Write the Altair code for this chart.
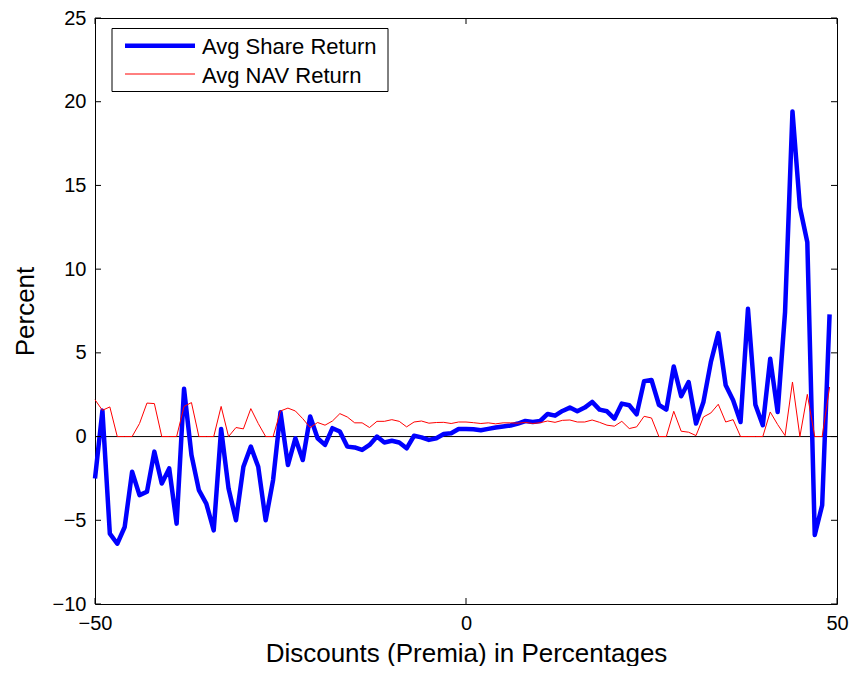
import altair as alt
import pandas as pd

discount = list(range(-50, 50))

share_return = [
    -2.5, 1.55, -5.8, -6.4, -5.4, -2.1, -3.5, -3.3, -0.9, -2.8,
    -1.9, -5.2, 2.85, -1.1, -3.2, -4.0, -5.6, 0.45, -3.1, -5.0,
    -1.8, -0.6, -1.8, -5.0, -2.6, 1.45, -1.7, -0.1, -1.4, 1.2,
    -0.1, -0.5, 0.5, 0.3, -0.6, -0.65, -0.8, -0.5, 0.0, -0.35,
    -0.25, -0.35, -0.7, 0.05, -0.05, -0.2, -0.1, 0.15, 0.2, 0.45,
    0.45, 0.44, 0.38, 0.46, 0.54, 0.6, 0.66, 0.78, 0.93, 0.87,
    0.93, 1.35, 1.25, 1.53, 1.73, 1.51, 1.73, 2.07, 1.61, 1.51,
    1.07, 1.97, 1.87, 1.33, 3.3, 3.38, 1.9, 1.61, 4.19, 2.41,
    3.26, 0.78, 2.07, 4.45, 6.18, 3.06, 2.17, 0.87, 7.63, 1.9,
    0.68, 4.65, 1.47, 7.44, 19.42, 13.7, 11.61, -5.88, -4.1, 7.3,
]

nav_return = [
    2.2, 1.57, 1.77, 0.0, 0.0, 0.0, 0.78, 2.0, 1.97, 0.0,
    0.0, 0.0, 1.8, 2.03, 0.0, 0.0, 0.0, 1.8, 0.0, 0.54,
    0.46, 1.67, 0.78, 0.0, 0.0, 1.53, 1.7, 1.53, 1.07, 0.54,
    0.84, 0.68, 0.93, 1.37, 1.17, 0.82, 0.82, 0.54, 0.91, 0.91,
    1.01, 0.91, 0.58, 0.87, 0.93, 0.8, 0.84, 0.85, 0.78, 0.87,
    0.87, 0.83, 0.78, 0.82, 0.76, 0.82, 0.82, 0.8, 0.85, 0.78,
    0.83, 0.93, 0.85, 0.97, 0.99, 0.87, 0.87, 0.99, 0.85, 0.68,
    0.62, 0.91, 0.48, 0.58, 1.21, 1.11, 0.0, 0.0, 1.51, 0.32,
    0.26, 0.06, 1.17, 1.41, 1.93, 0.87, 1.01, 0.0, 0.0, 0.0,
    0.0, 1.47, 0.72, 0.06, 3.26, 0.0, 2.52, 0.0, 0.0, 2.96,
]

series_names = ["Avg Share Return", "Avg NAV Return"]
series_colors = ["#0000ff", "#ff0000"]
series_widths = [4.5, 1.0]
x_ticks = [-50, 0, 50]
y_ticks = [-10, -5, 0, 5, 10, 15, 20, 25]

W, H = 742, 586
TICK = 6
FONT = "Liberation Sans"

x_enc = alt.X(
    "discount:Q",
    scale=alt.Scale(domain=[-50, 50], nice=False, zero=False),
    axis=alt.Axis(
        values=x_ticks, title="Discounts (Premia) in Percentages",
        labelFlush=False, labelPadding=9, labelFontSize=20,
        domain=False, ticks=False, grid=False,
        titleFontSize=26, titleFontWeight="normal", titleY=57,
        titleBaseline="alphabetic", titleColor="black", labelColor="black",
    ),
)
y_enc = alt.Y(
    "value:Q",
    scale=alt.Scale(domain=[-10, 25], nice=False, zero=False),
    axis=alt.Axis(
        values=y_ticks, title="Percent",
        labelFlush=False, labelPadding=9, labelFontSize=20,
        domain=False, ticks=False, grid=False,
        titleFontSize=26, titleFontWeight="normal", titleX=-62, titleY=H / 2,
        titleBaseline="alphabetic", titleColor="black", labelColor="black",
    ),
)

zero_df = pd.DataFrame({"value": [0]})
layers = [alt.Chart(zero_df).mark_rule(color="black", strokeWidth=1).encode(y=y_enc)]

for name, vals, col, wid in zip(series_names, [share_return, nav_return], series_colors, series_widths):
    sdf = pd.DataFrame({"discount": discount, "value": vals})
    layers.append(
        alt.Chart(sdf).mark_line(color=col, strokeWidth=wid, strokeJoin="round").encode(x=x_enc, y=y_enc)
    )

xt_df = pd.DataFrame({"discount": x_ticks})
yt_df = pd.DataFrame({"value": y_ticks})
layers += [
    alt.Chart(xt_df).mark_rule(color="black").encode(x=x_enc, y=alt.value(H), y2=alt.value(H - TICK)),
    alt.Chart(xt_df).mark_rule(color="black").encode(x=x_enc, y=alt.value(0), y2=alt.value(TICK)),
    alt.Chart(yt_df).mark_rule(color="black").encode(y=y_enc, x=alt.value(0), x2=alt.value(TICK)),
    alt.Chart(yt_df).mark_rule(color="black").encode(y=y_enc, x=alt.value(W - TICK), x2=alt.value(W)),
]

# legend box (drawn as decoration inside the plot)
box_df = pd.DataFrame({"k": [0]})
layers.append(
    alt.Chart(box_df).mark_rect(fill="white", stroke="black", strokeWidth=1).encode(
        x=alt.value(17), x2=alt.value(293), y=alt.value(10.5), y2=alt.value(73.5)
    )
)
row_line_y = [27.7, 56]
row_text_y = [36, 64.7]
for i, (name, col, wid) in enumerate(zip(series_names, series_colors, series_widths)):
    ldf = pd.DataFrame({"series": [name]})
    layers.append(
        alt.Chart(ldf).mark_rule(color=col, strokeWidth=wid).encode(
            x=alt.value(30), x2=alt.value(100), y=alt.value(row_line_y[i])
        )
    )
    layers.append(
        alt.Chart(ldf).mark_text(
            align="left", baseline="alphabetic", fontSize=22, font=FONT, color="black"
        ).encode(text="series:N", x=alt.value(107), y=alt.value(row_text_y[i]))
    )

chart = alt.layer(*layers).properties(
    width=W, height=H,
    autosize=alt.AutoSizeParams(type="none"),
    padding={"left": 87, "top": 10, "right": 13, "bottom": 62},
    background="white",
).configure(
    font=FONT,
).configure_view(
    stroke="black", strokeWidth=1,
)

chart.save("out.html", embed_options={"renderer": "svg", "actions": False})
